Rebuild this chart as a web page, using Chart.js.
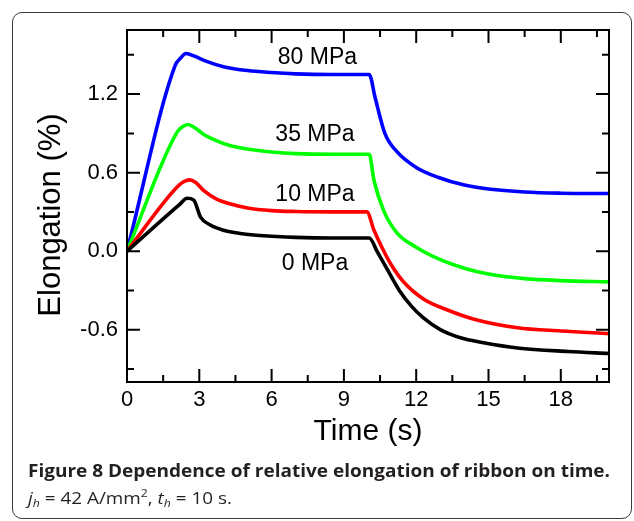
<!DOCTYPE html>
<html>
<head>
<meta charset="utf-8">
<script src="https://cdn.jsdelivr.net/npm/chart.js@4.4.0/dist/chart.umd.min.js"></script>
<style>
  html, body { margin: 0; padding: 0; background: #fff; }
  #wrap { position: relative; width: 634px; height: 521px; overflow: hidden; }
  #box { position: absolute; left: 12px; top: 12px; width: 620px; height: 507px;
         border: 1.5px solid #3a3a3a; border-radius: 10px; box-sizing: border-box; }
  canvas { position: absolute; left: 0; top: 0; }
  .cap { position: absolute; left: 28px; font-family: "Open Sans", sans-serif; color: #231f20;
         white-space: nowrap; transform-origin: 0 50%; }
  #cap1 { top: 458px; font-size: 18px; font-weight: 700; }
  #cap2 { top: 486px; font-size: 17px; }
  #cap2 i { font-style: italic; }
  #cap2 sub { font-size: 11px; vertical-align: -3px; line-height: 0; }
  #cap2 sup { font-size: 11px; vertical-align: 7px; line-height: 0; }
</style>
</head>
<body>
<div id="wrap">
  <div id="box"></div>
  <canvas id="chart" width="634" height="521"></canvas>
  <div class="cap" id="cap1">Figure 8 Dependence of relative elongation of ribbon on time.</div>
  <div class="cap" id="cap2"><i>j<sub>h</sub></i> = 42 A/mm<sup>2</sup>, <i>t<sub>h</sub></i> = 10 s.</div>
</div>
<script>
  "use strict";

  // ---- data ----
  const t80 = [0, 2.0, 2.2, 2.45, 2.8, 3.3, 4.0, 5.0, 6.0, 7.0, 8.5, 10.05, 10.3, 10.7, 11.2, 12.0, 12.9, 14.0, 15.0, 16.5, 18.0, 20.0];
  const e80 = [0, 1.42, 1.47, 1.51, 1.49, 1.45, 1.41, 1.38, 1.365, 1.355, 1.35, 1.35, 1.17, 0.90, 0.76, 0.64, 0.565, 0.505, 0.475, 0.452, 0.443, 0.44];

  const t35 = [0, 2.08, 2.3, 2.53, 2.8, 3.2, 3.7, 4.3, 5.0, 6.0, 7.0, 8.5, 10.05, 10.25, 10.65, 11.2, 12.0, 13.0, 14.0, 15.0, 16.5, 18.0, 20.0];
  const e35 = [0, 0.91, 0.95, 0.968, 0.945, 0.89, 0.845, 0.805, 0.78, 0.758, 0.745, 0.74, 0.74, 0.54, 0.31, 0.14, 0.03, -0.065, -0.13, -0.175, -0.21, -0.225, -0.235];

  const t10 = [0, 2.08, 2.35, 2.6, 2.85, 3.2, 3.7, 4.3, 5.0, 6.0, 7.0, 8.5, 9.95, 10.25, 10.6, 10.95, 11.5, 12.3, 13.3, 14.4, 16.2, 18.0, 20.0];
  const e10 = [0, 0.49, 0.53, 0.545, 0.525, 0.46, 0.40, 0.36, 0.33, 0.31, 0.303, 0.30, 0.30, 0.16, 0.02, -0.10, -0.24, -0.365, -0.45, -0.52, -0.585, -0.61, -0.63];

  const t0 = [0, 2.2, 2.49, 2.77, 3.05, 3.46, 4.0, 4.7, 5.5, 7.0, 8.5, 10.05, 10.4, 10.8, 11.3, 11.8, 12.3, 13.0, 13.8, 14.8, 16.2, 18.3, 20.0];
  const e0 = [0, 0.36, 0.404, 0.39, 0.26, 0.20, 0.16, 0.135, 0.12, 0.105, 0.10, 0.10, -0.01, -0.14, -0.30, -0.42, -0.51, -0.60, -0.66, -0.70, -0.74, -0.767, -0.782];

  const seriesNames = ["80 MPa", "35 MPa", "10 MPa", "0 MPa"];
  const seriesColors = ["#0000ff", "#00ff00", "#ff0000", "#000000"];

  // axis ticks
  const xMajor = [0, 3, 6, 9, 12, 15, 18];
  const xMinor = [1.5, 4.5, 7.5, 10.5, 13.5, 16.5, 19.5];
  const yMajor = [-0.6, 0.0, 0.6, 1.2];
  const yMinor = [-0.9, -0.3, 0.3, 0.9, 1.5];

  // where the curve labels sit (data units: time, elongation at baseline)
  const labelAt = [[7.9, 1.43], [7.8, 0.845], [7.8, 0.386], [7.8, -0.144]];

  const FONT = "'Liberation Sans', Arial, sans-serif";
  const Y_TITLE = "Elongation (%)";

  const pairs = (ts, es) => ts.map((t, i) => ({ x: t, y: es[i] }));

  function line(label, data, color, order) {
    return {
      label, data, borderColor: color, backgroundColor: color,
      borderWidth: 3.6, pointRadius: 0, fill: false,
      cubicInterpolationMode: "monotone", order,
    };
  }

  // frame with inward ticks on all four sides + curve labels + y title
  const framePlugin = {
    id: "frameTicks",
    afterDatasetsDraw(chart) {
      const { ctx, chartArea: a, scales: { x, y } } = chart;
      ctx.save();
      ctx.strokeStyle = "#000";
      ctx.lineWidth = 2;
      ctx.lineCap = "butt";
      ctx.beginPath();
      const tick = (vals, len) => {
        vals.forEach((v) => {
          const px = x.getPixelForValue(v);
          ctx.moveTo(px, a.bottom); ctx.lineTo(px, a.bottom - len);
          ctx.moveTo(px, a.top); ctx.lineTo(px, a.top + len);
        });
      };
      const tickY = (vals, len) => {
        vals.forEach((v) => {
          const py = y.getPixelForValue(v);
          ctx.moveTo(a.left, py); ctx.lineTo(a.left + len, py);
          ctx.moveTo(a.right, py); ctx.lineTo(a.right - len, py);
        });
      };
      tick(xMajor, 13); tick(xMinor, 7);
      tickY(yMajor, 13); tickY(yMinor, 7);
      ctx.stroke();
      ctx.strokeRect(a.left, a.top, a.right - a.left, a.bottom - a.top);

      ctx.fillStyle = "#000";
      ctx.font = "23px " + FONT;
      ctx.textAlign = "center";
      ctx.textBaseline = "alphabetic";
      seriesNames.forEach((name, i) => {
        ctx.fillText(name, x.getPixelForValue(labelAt[i][0]), y.getPixelForValue(labelAt[i][1]));
      });

      // y title sits a little below the middle of the axis in the figure
      ctx.translate(51.5, (a.top + a.bottom) / 2 + 9);
      ctx.rotate(-Math.PI / 2);
      ctx.font = "31px " + FONT;
      ctx.textBaseline = "middle";
      ctx.fillText(Y_TITLE, 0, 0);
      ctx.restore();
    },
  };

  new Chart(document.getElementById("chart"), {
    type: "line",
    data: {
      datasets: [
        line(seriesNames[0], pairs(t80, e80), seriesColors[0], 4),
        line(seriesNames[1], pairs(t35, e35), seriesColors[1], 3),
        line(seriesNames[2], pairs(t10, e10), seriesColors[2], 2),
        line(seriesNames[3], pairs(t0, e0), seriesColors[3], 1),
      ],
    },
    options: {
      responsive: false,
      animation: false,
      devicePixelRatio: 1,
      layout: { padding: { top: 30, right: 25, left: 0, bottom: 0 } },
      plugins: { legend: { display: false }, tooltip: { enabled: false } },
      scales: {
        x: {
          type: "linear", min: 0, max: 20,
          grid: { display: false, drawTicks: false },
          border: { display: false },
          afterBuildTicks: (s) => { s.ticks = xMajor.map((v) => ({ value: v })); },
          afterFit: (s) => { s.height = 139; },
          ticks: { color: "#000", padding: 5, font: { family: FONT, size: 22 }, callback: (v) => String(v) },
          title: { display: true, text: "Time (s)", color: "#000", font: { family: FONT, size: 30 }, padding: { top: 0, bottom: 71 } },
        },
        y: {
          type: "linear", min: -1.0, max: 1.69,
          grid: { display: false, drawTicks: false },
          border: { display: false },
          afterBuildTicks: (s) => { s.ticks = yMajor.map((v) => ({ value: v })); },
          afterFit: (s) => { s.width = 127; },
          ticks: { color: "#000", padding: 9, font: { family: FONT, size: 22 }, callback: (v) => v.toFixed(1) },
          title: { display: false },
        },
      },
    },
    plugins: [framePlugin],
  });

  // squeeze the caption lines to the widths in the figure
  function fit(id, w) {
    const el = document.getElementById(id);
    el.style.transform = "scaleX(" + (w / el.getBoundingClientRect().width) + ")";
  }
  fit("cap1", 582);
  fit("cap2", 204);
</script>
</body>
</html>
